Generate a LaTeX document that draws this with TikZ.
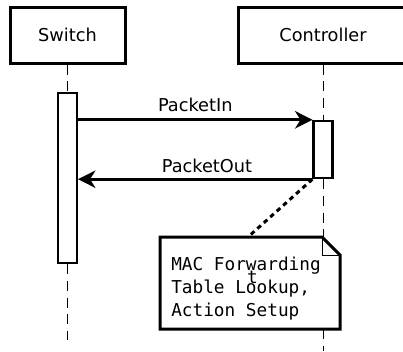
\documentclass[tikz,border=0pt]{standalone}
\usepackage{fontspec}
\setmainfont{DejaVu Sans}
\newfontfamily\notefont{DejaVu Sans Mono}
\usetikzlibrary{arrows.meta}

\tikzset{
  actor/.style={draw,line width=2.25pt,minimum height=42pt,inner sep=0pt,font=\fontsize{13.3}{16}\selectfont},
  activation/.style={draw,fill=white,line width=1.8pt,minimum width=14pt,inner sep=0pt},
  lifeline/.style={line width=0.75pt,dash pattern=on 7.5pt off 5pt},
  msg/.style={line width=2.25pt,-{Stealth[length=13pt,width=13pt,inset=4pt]}},
  msglabel/.style={font=\fontsize{13.3}{16}\selectfont,inner sep=0pt}
}

\begin{document}
\begin{tikzpicture}[x=0.75pt,y=-0.75pt]
	\useasboundingbox (0,0) rectangle (403,351);
	\clip (0,0) rectangle (403,351);

	% Participants
	\node[actor,minimum width=86.25pt] (switch) at (67.5,35) {Switch};
	\node[actor,minimum width=127.5pt] (controller) at (323,35) {Controller};

	% Activations
	\node[activation,minimum height=127.5pt] (swact) at (67.5,178) {};
	\node[activation,minimum height=42.75pt] (ctact) at (323,149.5) {};

	% Lifelines
	\coordinate (swend) at (67.5,340);
	\coordinate (ctend) at (323,351);
	\draw[lifeline] (switch.south) -- (swact.north);
	\draw[lifeline] (swact.south) -- (swend);
	\draw[lifeline] (controller.south) -- (ctact.north);
	\draw[lifeline] (ctact.south) -- (ctend);

	% Messages
	\draw[msg] (swact.east |- ctact.north) -- (ctact.north west)
		node[msglabel,pos=0.5,above=5pt] (pin) {PacketIn};
	\draw[msg] (ctact.south west) -- (swact.east |- ctact.south)
		node[msglabel,pos=0.45,above=4pt] (pout) {PacketOut};

	% Note
	\coordinate (notetip) at (248,237);
	\draw[line width=2.25pt,dash pattern=on 3.5pt off 3pt] (ctact.south west) -- (notetip);
	\draw[line width=2.25pt,fill=white] (160,237) -- (322,237) -- (340,255) -- (340,329) -- (160,329) -- cycle;
	\draw[line width=0.75pt] (322,237) -- (322,255) -- (340,255);
	\node[font=\notefont\fontsize{13.3}{17.2}\selectfont,align=left,anchor=west,inner sep=0pt] (notetext) at (171,289)
		{MAC Forwarding\\Table Lookup,\\Action Setup};
	\node[font=\notefont\fontsize{13.3}{16}\selectfont,anchor=base,inner sep=0pt] (stray) at (252.5,283.5) {t};
\end{tikzpicture}
\end{document}
